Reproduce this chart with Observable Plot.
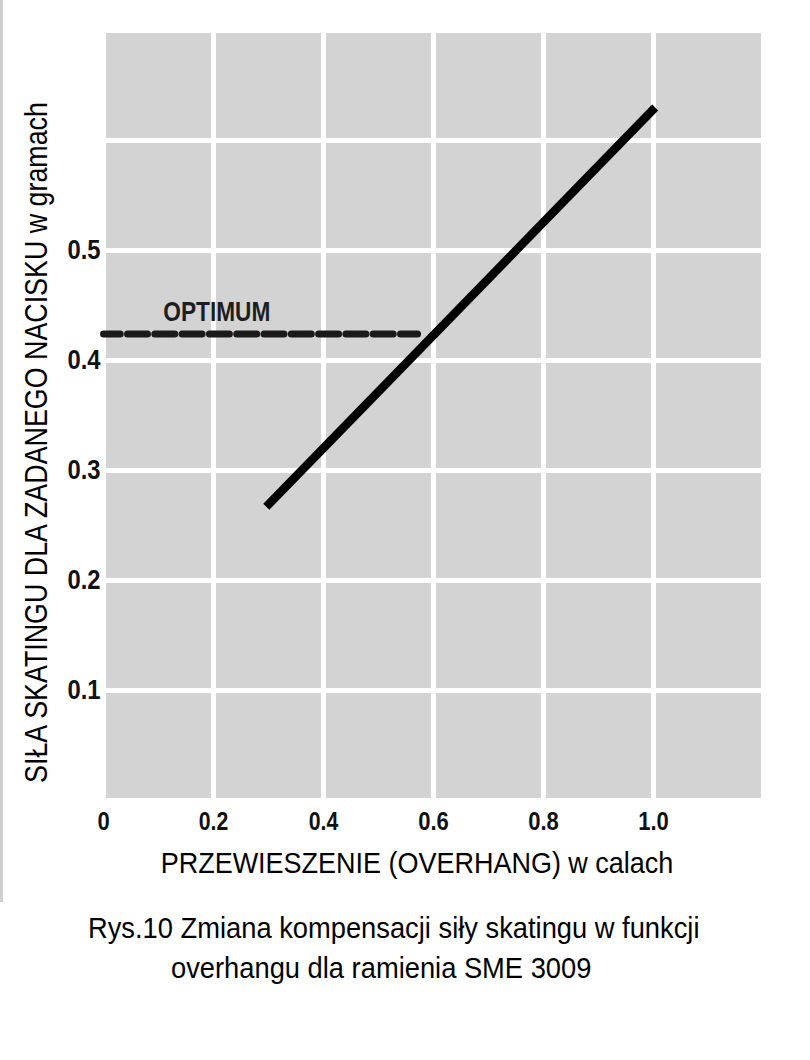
<!DOCTYPE html>
<html>
<head>
<meta charset="utf-8">
<script src="https://cdn.jsdelivr.net/npm/d3@7"></script>
<script src="https://cdn.jsdelivr.net/npm/@observablehq/plot@0.6"></script>
<style>
  html, body { margin: 0; padding: 0; background: #fff; }
  body { width: 810px; height: 1060px; position: relative; overflow: hidden; }
  #edge { position: absolute; left: 0; top: 0; width: 3px; height: 902px; background: #cfcfcf; }
  #chart svg { display: block; }
  #caption {
    font-family: "Liberation Sans", Arial, sans-serif;
    font-size: 30px; line-height: 40px; color: #000; padding-top: 28px;
  }
  #caption div { white-space: nowrap; }
  #caption span { display: inline-block; transform: scaleX(0.91); transform-origin: 0 50%; }
  #caption .l1 { padding-left: 88px; }
  #caption .l2 { padding-left: 171px; }
</style>
</head>
<body>
<div id="edge"></div>
<div id="chart"></div>
<div id="caption">
  <div class="l1"><span>Rys.10 Zmiana kompensacji siły skatingu w funkcji</span></div>
  <div class="l2"><span>overhangu dla ramienia SME 3009</span></div>
</div>
<script>
// ---- data ----
const overhang = [0.296, 1.003];          // x of the solid line ends (inches)
const skatingForce = [0.267, 0.630];      // y of the solid line ends
const optimumX = [0, 0.571];              // dashed optimum line extent
const optimumY = [0.424, 0.424];          // dashed optimum level
const optimumLabel = ["OPTIMUM"];
const optimumLabelX = [0.206];
const optimumLabelY = [0.444];
const xTickValues = [0, 0.2, 0.4, 0.6, 0.8, 1.0];
const xTickLabels = ["0", "0.2", "0.4", "0.6", "0.8", "1.0"];
const yTickValues = [0.1, 0.2, 0.3, 0.4, 0.5];
const yTickLabels = ["0.1", "0.2", "0.3", "0.4", "0.5"];
const xGridValues = [0, 0.2, 0.4, 0.6, 0.8, 1.0, 1.2];
const yGridValues = [0, 0.1, 0.2, 0.3, 0.4, 0.5, 0.6, 0.7];
const xDomain = [0, 1.2];
const yDomain = [0, 0.7];
const xTitle = "PRZEWIESZENIE (OVERHANG) w calach";
const yTitle = "SIŁA SKATINGU DLA ZADANEGO NACISKU w gramach";

const FONT = '"Liberation Sans", Arial, sans-serif';

const lineData = overhang.map((x, i) => ({x, y: skatingForce[i]}));
const optData = optimumX.map((x, i) => ({x, y: optimumY[i]}));
const optLabelData = optimumLabel.map((t, i) => ({t, x: optimumLabelX[i], y: optimumLabelY[i]}));

const chart = Plot.plot({
  width: 810,
  height: 880,
  marginLeft: 103,
  marginRight: 47,
  marginTop: 30,
  marginBottom: 80,
  x: {domain: xDomain},
  y: {domain: yDomain},
  style: {fontFamily: FONT, background: "transparent", color: "#111", overflow: "visible"},
  marks: [
    Plot.frame({fill: "#d3d3d3", stroke: "none"}),
    Plot.ruleX(xGridValues, {stroke: "#fff", strokeWidth: 5}),
    Plot.ruleY(yGridValues, {stroke: "#fff", strokeWidth: 5}),
    Plot.line(optData, {x: "x", y: "y", stroke: "#1a1a1a", strokeWidth: 7, strokeDasharray: "20,7.3", strokeDashoffset: 3.3}),
    Plot.line(lineData, {x: "x", y: "y", stroke: "#000", strokeWidth: 8.5, strokeLinecap: "butt"}),
    Plot.text(optLabelData, {x: "x", y: "y", text: "t", fontSize: 28, fontWeight: "bold", fill: "#1e1e1e",
      textAnchor: "middle", lineAnchor: "middle"}),
    Plot.axisX(xTickValues, {tickSize: 0, tickPadding: 12, fontSize: 25, fontWeight: "bold", fill: "#111",
      tickFormat: d => xTickLabels[xTickValues.indexOf(d)], label: null}),
    Plot.axisY(yTickValues, {tickSize: 0, tickPadding: 3, fontSize: 28, fontWeight: "bold", fill: "#111",
      tickFormat: d => yTickLabels[yTickValues.indexOf(d)], label: null}),
    Plot.text([xTitle], {text: d => d, frameAnchor: "bottom", textAnchor: "middle", lineAnchor: "middle",
      dx: -16.5, dy: 62.4, fontSize: 30, fill: "#000"}),
    Plot.text([yTitle], {text: d => d, frameAnchor: "left", textAnchor: "middle", lineAnchor: "middle",
      rotate: -90, dx: -65.8, dy: 27, fontSize: 30.5, fill: "#000"})
  ]
});

// condense glyphs horizontally (the original uses a narrow typeface)
const squeeze = new Map([
  [xTitle, 0.9], [yTitle, 0.88], [optimumLabel[0], 0.81]
]);
xTickLabels.forEach(s => squeeze.set(s, 0.88));
yTickLabels.forEach(s => squeeze.set(s, 0.85));
chart.querySelectorAll("text").forEach(t => {
  const sx = squeeze.get(t.textContent.trim());
  if (!sx) return;
  const tr = t.getAttribute("transform");
  if (tr) {
    t.setAttribute("transform", `${tr} scale(${sx},1)`);
  } else {
    const x = +(t.getAttribute("x") || 0), y = +(t.getAttribute("y") || 0);
    t.setAttribute("transform", `translate(${x},${y}) scale(${sx},1) translate(${-x},${-y})`);
  }
});

document.getElementById("chart").appendChild(chart);
</script>
</body>
</html>
